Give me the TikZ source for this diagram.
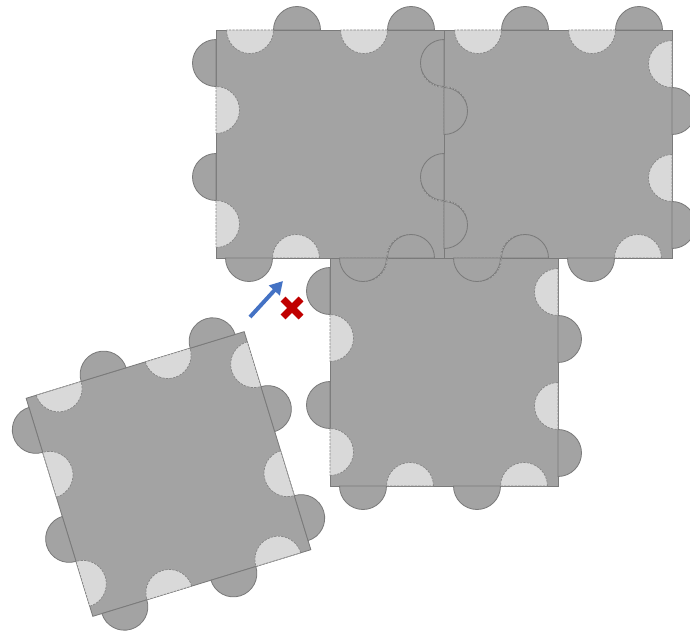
\documentclass[tikz,border=0pt]{standalone}
\usepackage{tikz}
\usetikzlibrary{arrows.meta}

\definecolor{tilegray}{HTML}{A3A3A3}
\definecolor{holegray}{HTML}{D9D9D9}
\definecolor{edgegray}{HTML}{7A7A7A}
\definecolor{holeedge}{HTML}{858585}
\definecolor{pushblue}{HTML}{4472C4}
\definecolor{stopred}{HTML}{C00000}

% one tile: square of side 228, half-disc slots of radius 23.5
\newcommand{\tileFace}[3]{%
  \begin{scope}[shift={(#1,#2)}, rotate=#3]
    \draw[tileBody] (-114,-114) rectangle (114,114);
  \end{scope}}
\newcommand{\tileHoles}[3]{%
  \begin{scope}[shift={(#1,#2)}, rotate=#3]
    \foreach \s in {0,-90,-180,-270}
      \foreach \c in {-80,34}
        \draw[tileHole, rotate=\s] (\c-23.5,114)
          arc[start angle=180, end angle=360, radius=23.5] -- cycle;
  \end{scope}}
\newcommand{\tileTabs}[3]{%
  \begin{scope}[shift={(#1,#2)}, rotate=#3]
    \foreach \s in {0,-90,-180,-270}
      \foreach \c in {-33,81}
        \draw[tileTab, rotate=\s] (\c-23.5,114)
          arc[start angle=180, end angle=0, radius=23.5] -- cycle;
  \end{scope}}

\begin{document}
\begin{tikzpicture}[
  x=0.03cm, y=0.03cm,
  tileBody/.style={fill=tilegray, draw=edgegray, line width=0.7pt},
  tileHole/.style={fill=holegray, draw=holeedge, line width=0.6pt,
                   dash pattern=on 2pt off 1pt},
  tileTab/.style={fill=tilegray, draw=edgegray, line width=0.7pt},
  pushArrow/.style={draw=pushblue, line width=3.4pt,
                    -{Triangle[length=11pt, width=12pt]}},
  stopMark/.style={draw=stopred, line width=6pt}
]
  \useasboundingbox (0,0) rectangle (690,630);

  % tiles: centre x / centre y / angle
  \foreach \cx/\cy/\ang in {330/486/0, 558/486/0, 444/258/0, 168.5/156/17}
    \tileFace{\cx}{\cy}{\ang};
  \foreach \cx/\cy/\ang in {330/486/0, 558/486/0, 444/258/0, 168.5/156/17}
    \tileHoles{\cx}{\cy}{\ang};
  \foreach \cx/\cy/\ang in {330/486/0, 558/486/0, 444/258/0, 168.5/156/17}
    \tileTabs{\cx}{\cy}{\ang};

  % push direction
  \coordinate (pushFrom) at (250,313);
  \coordinate (pushTo) at (283,349);
  \draw[pushArrow] (pushFrom) -- (pushTo);

  % does not fit
  \coordinate (stop) at (292,322);
  \draw[stopMark] ([shift={(-9,-9)}]stop) -- ([shift={(9,9)}]stop);
  \draw[stopMark] ([shift={(-9,9)}]stop) -- ([shift={(9,-9)}]stop);
\end{tikzpicture}
\end{document}
